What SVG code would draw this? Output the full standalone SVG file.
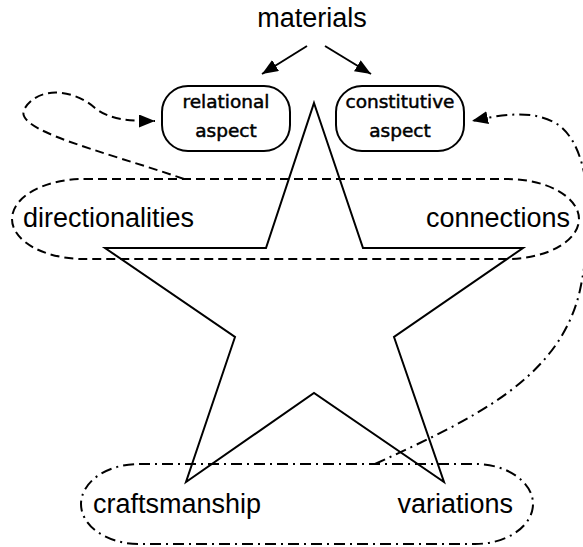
<svg xmlns="http://www.w3.org/2000/svg" width="583" height="547" viewBox="0 0 583 547">
<style>
.lbl{font-family:"Liberation Sans",Arial,sans-serif;font-size:27px;fill:#000}
.box{fill:#fff;stroke:#000;stroke-width:2}
.btxt{font-family:"DejaVu Sans",sans-serif;font-size:18.5px;fill:#000;stroke:#000;stroke-width:0.5;text-anchor:middle}
.ln{fill:none;stroke:#000;stroke-width:2}
.dash{fill:none;stroke:#000;stroke-width:2;stroke-dasharray:9 5}
.dd{fill:none;stroke:#000;stroke-width:2;stroke-dasharray:11 5 2 5}
</style>
<defs>
<marker id="ah" markerUnits="userSpaceOnUse" markerWidth="17" markerHeight="13" refX="16" refY="6.5" orient="auto">
<path d="M0,0 L16,6.5 L0,13 z" fill="#000"/>
</marker>
</defs>
<g id="star">
<polygon class="ln" points="314,103 363,248 523,248 394,337 444,482 314,393 186,482 235,337 105,248 266,248"/>
</g>
<g id="directionalities-connections">
<rect class="dash" x="12" y="179" width="567" height="80" rx="72" ry="40"/>
<text class="lbl" x="23" y="227">directionalities</text>
<text class="lbl" x="570" y="227" text-anchor="end">connections</text>
</g>
<g id="craftsmanship-variations">
<rect class="dd" x="81" y="464" width="452" height="80" rx="58" ry="40"/>
<text class="lbl" x="93" y="513">craftsmanship</text>
<text class="lbl" x="513" y="513" text-anchor="end">variations</text>
</g>
<g id="materials">
<text class="lbl" x="312" y="27" text-anchor="middle">materials</text>
</g>
<g id="relational">
<rect class="box" x="162" y="86" width="128" height="65" rx="26" ry="26"/>
<text class="btxt" x="226" y="108">relational</text>
<text class="btxt" x="226" y="137">aspect</text>
</g>
<g id="constitutive">
<rect class="box" x="336" y="86" width="128" height="65" rx="26" ry="26"/>
<text class="btxt" x="400" y="108">constitutive</text>
<text class="btxt" x="400" y="137">aspect</text>
</g>
<g id="connectors">
<line class="ln" x1="307" y1="46" x2="262" y2="74" marker-end="url(#ah)"/>
<line class="ln" x1="325" y1="46" x2="371" y2="74" marker-end="url(#ah)"/>
<path class="dash" d="M184,179 C100,150 10,130 25,108 C40,85 75,90 95,108 C110,120 130,121 155,121" marker-end="url(#ah)"/>
<path class="dd" d="M375,464 C470,420 560,380 580,290 C595,220 590,150 560,126 C535,108 500,115 472,121" marker-end="url(#ah)"/>
</g>
</svg>
